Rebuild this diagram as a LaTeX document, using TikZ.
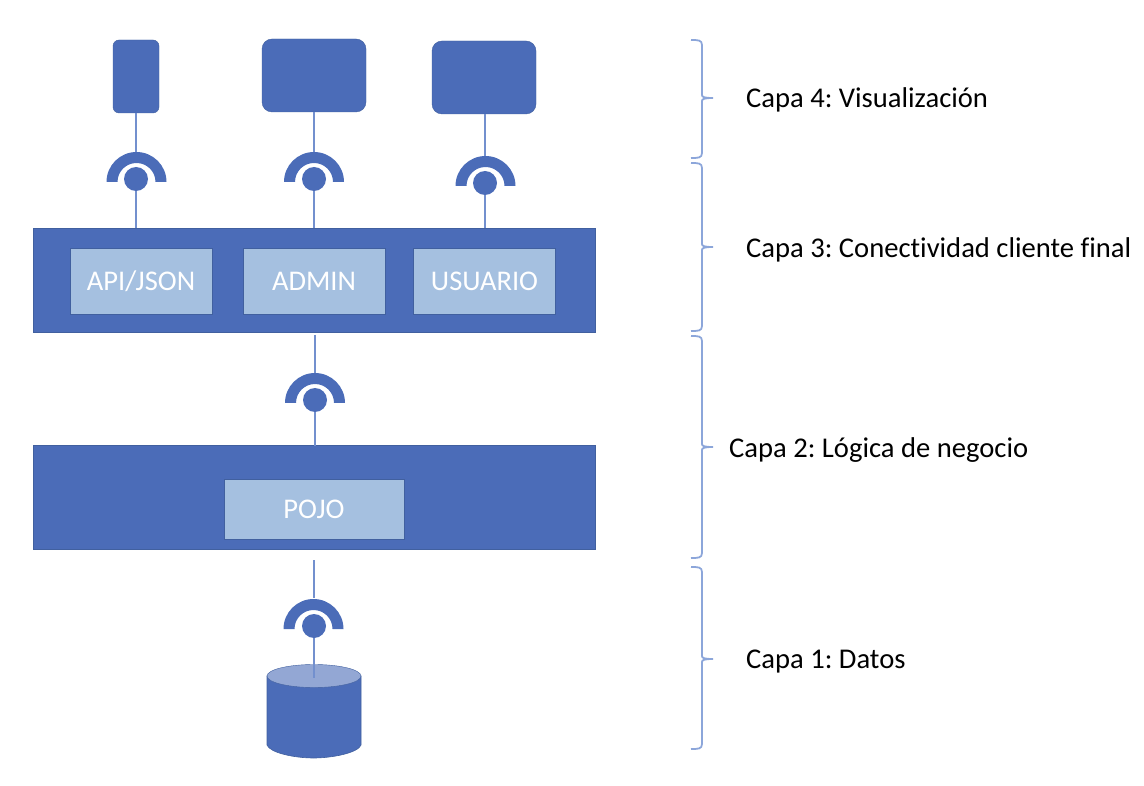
\documentclass[tikz,border=0pt]{standalone}
\usepackage{fontspec}
\setmainfont{Carlito}[Ligatures=NoCommon]
\frenchspacing
\definecolor{capablue}{HTML}{4B6CB8}
\definecolor{capaedge}{HTML}{41609F}
\definecolor{capalight}{HTML}{A5C0E0}
\definecolor{capatop}{HTML}{93A7D4}
\definecolor{capawire}{HTML}{7390CE}
\definecolor{capabrace}{HTML}{8CA6DA}
\tikzset{
  screen/.style={draw=capaedge,fill=capablue,rounded corners=#1,inner sep=0pt,outer sep=0pt},
  bar/.style={draw=capaedge,fill=capablue,inner sep=0pt,outer sep=0pt,minimum width=562pt,minimum height=104pt},
  module/.style={draw=capaedge,fill=capalight,inner sep=0pt,outer sep=0pt,text=white,font=\fontsize{28.5}{28.5}\selectfont,minimum height=66pt},
  ball/.style={circle,fill=capablue,inner sep=0pt,outer sep=0pt,minimum size=24pt},
  wire/.style={draw=capawire,line width=1.4pt},
  capalabel/.style={anchor=west,inner sep=0pt,text=black,font=\fontsize{28.6}{28.6}\selectfont},
}
% socket arc: x, y of the flat ends
\newcommand{\sockarc}[2]{\fill[capablue] (#1-30,#2) arc(180:360:30) -- ++(-11,0) arc(360:180:19) -- cycle;}
\begin{document}
\begin{tikzpicture}[x=1pt,y=-1pt]
\useasboundingbox (0,0) rectangle (1144,786);

% clients
\node[screen=6pt,minimum width=46pt,minimum height=73pt] (phone) at (136,76.5) {};
\node[screen=10pt,minimum width=104pt,minimum height=73pt] (admin) at (314,75.5) {};
\node[screen=10pt,minimum width=104pt,minimum height=73pt] (user) at (484,77.5) {};

% layers
\node[bar] (barC) at (314,280) {};
\node[bar] (barB) at (314,497.5) {};
\node[module,minimum width=142pt] (api) at (141,281) {API/JSON};
\node[module,minimum width=142pt] (adm) at (314,281) {ADMIN};
\node[module,minimum width=142pt] (usr) at (484.5,281) {USUARIO};
\node[module,minimum width=180pt,minimum height=60pt] (pojo) at (314,509) {POJO};

% database
\fill[capablue,draw=capaedge,line width=0.6pt] (267,676) -- (267,745) .. controls (270,753) and (295,758) .. (313.5,758) .. controls (332,758) and (358,753) .. (361,745) -- (361,676) -- cycle;
\draw[fill=capatop,draw=capaedge] (314,676) ellipse (47 and 11.5);
\coordinate (dbtop) at (314,678);

% sockets
\coordinate (topA) at (136,152);
\coordinate (topB) at (314,152);
\coordinate (topC) at (485,156);
\coordinate (topD) at (315,373);
\coordinate (topE) at (314,598);
\coordinate (endC) at (315,335);
\coordinate (endB) at (314,560);
\node[ball] (ballA) at (136,179) {};
\node[ball] (ballB) at (314,179) {};
\node[ball] (ballC) at (485,183) {};
\node[ball] (ballD) at (315,400) {};
\node[ball] (ballE) at (314,626) {};
\sockarc{136.5}{182}
\sockarc{314}{182}
\sockarc{485.5}{186}
\sockarc{315}{403}
\sockarc{313.5}{629}

\draw[wire] (phone.south) -- (topA) (ballA) -- (ballA |- barC.north);
\draw[wire] (admin.south) -- (topB) (ballB) -- (ballB |- barC.north);
\draw[wire] (user.south -| topC) -- (topC) (ballC) -- (ballC |- barC.north);
\draw[wire] (endC) -- (topD) (ballD) -- (ballD |- barB.north);
\draw[wire] (endB) -- (topE) (ballE) -- (dbtop);

% braces
\foreach \t/\m/\b in {40/98/158,163/247/331,336/447/558,567/659/749}
  \draw[draw=capabrace,line width=1.8pt] (691,\t) .. controls (698,\t) and (702,\t) .. (702,\t+5) -- (702,\m-3) .. controls (702,\m-1) and (704,\m) .. (713,\m) .. controls (704,\m) and (702,\m+1) .. (702,\m+3) -- (702,\b-5) .. controls (702,\b) and (698,\b) .. (691,\b);

\node[capalabel] (capaD) at (746,99.5) {Capa 4: Visualización};
\node[capalabel] (capaC) at (746,249.5) {Capa 3: Conectividad cliente final};
\node[capalabel] (capaB) at (729,450.5) {Capa 2: Lógica de negocio};
\node[capalabel] (capaA) at (746,661.5) {Capa 1: Datos};
\end{tikzpicture}
\end{document}
